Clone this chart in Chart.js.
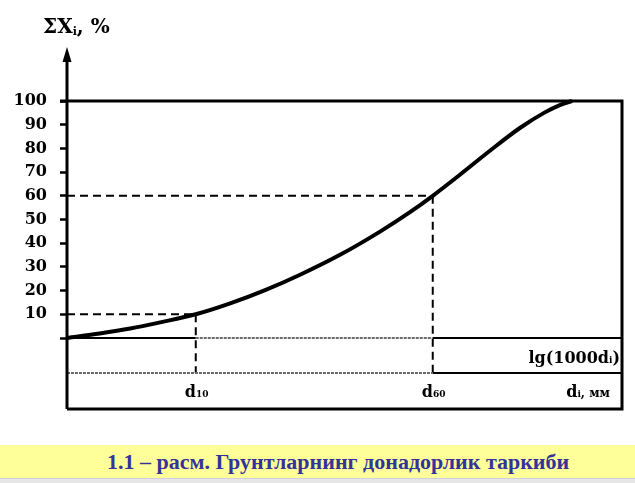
<!DOCTYPE html>
<html>
<head>
<meta charset="utf-8">
<script src="https://cdn.jsdelivr.net/npm/chart.js@4/dist/chart.umd.min.js"></script>
<style>
  html, body { margin: 0; padding: 0; background: #ffffff; }
  #wrap { position: relative; width: 635px; height: 445px; }
  #caption {
    width: 635px; height: 33px; background: #ffff99;
    font-family: "Liberation Serif", serif; font-weight: bold; font-size: 22px;
    color: #333399; line-height: 33px; box-sizing: border-box; padding-left: 107px;
    white-space: nowrap;
  }
  #foot { width: 635px; height: 5px; background: #e6e6e6; border-top: 1px solid #cfcfdf; box-sizing: border-box; }
</style>
</head>
<body>
<div id="wrap"><canvas id="c" width="635" height="445"></canvas></div>
<div id="caption">1.1 – расм. Грунтларнинг донадорлик таркиби</div>
<div id="foot"></div>
<script>
// Curve (x: position on lg(1000 d) axis, 0..100 arbitrary units; y: cumulative %)
const curveX = [0, 5.9, 11.4, 16.8, 23.2, 29.4, 35.7, 42.0, 49.2, 56.4, 61.8, 65.9, 70.8, 76.2, 81.6, 86.1, 88.8, 91.0];
const curveY = [0, 1.9, 4.0, 6.6, 10, 14.6, 20.2, 26.7, 35.1, 44.9, 53.1, 60, 68.9, 79.0, 88.6, 95.2, 98.3, 100];
// Characteristic diameters
const guideNames = ['10', '60'];
const guideX = [23.2, 65.9];
const guideY = [10, 60];
// Y ticks
const yTicks = [0, 10, 20, 30, 40, 50, 60, 70, 80, 90, 100];

const SERIF = '"DejaVu Serif", "Liberation Serif", serif';

const decor = {
  id: 'decor',
  afterDraw(chart) {
    const ctx = chart.ctx;
    const xs = chart.scales.x, ys = chart.scales.y;
    const L = xs.getPixelForValue(0), R = xs.getPixelForValue(100);
    const T = ys.getPixelForValue(100), B = ys.getPixelForValue(0);
    const row1 = B + 35, row2 = B + 71;
    ctx.save();
    // guides
    ctx.strokeStyle = '#000'; ctx.lineWidth = 2; ctx.setLineDash([8, 5]);
    guideX.forEach((gx, i) => {
      const px = xs.getPixelForValue(gx), py = ys.getPixelForValue(guideY[i]);
      ctx.beginPath(); ctx.moveTo(L, py); ctx.lineTo(px, py); ctx.stroke();
      ctx.beginPath(); ctx.moveTo(px, py); ctx.lineTo(px, row1); ctx.stroke();
    });
    ctx.setLineDash([]);
    const d10 = xs.getPixelForValue(guideX[0]), d60 = xs.getPixelForValue(guideX[1]);
    // row lines
    ctx.lineWidth = 2;
    ctx.strokeStyle = '#000';
    ctx.beginPath(); ctx.moveTo(L, B); ctx.lineTo(d10, B); ctx.stroke();
    ctx.beginPath(); ctx.moveTo(d60, B); ctx.lineTo(R, B); ctx.stroke();
    ctx.beginPath(); ctx.moveTo(d60, row1); ctx.lineTo(R, row1); ctx.stroke();
    ctx.strokeStyle = '#6a6a6a'; ctx.setLineDash([3, 1]);
    ctx.beginPath(); ctx.moveTo(d10, B); ctx.lineTo(d60, B); ctx.stroke();
    ctx.beginPath(); ctx.moveTo(L, row1); ctx.lineTo(d60, row1); ctx.stroke();
    ctx.setLineDash([]);
    // frame
    ctx.strokeStyle = '#000'; ctx.lineWidth = 3;
    ctx.beginPath(); ctx.moveTo(L - 7, T); ctx.lineTo(R, T); ctx.lineTo(R, row2); ctx.lineTo(L, row2); ctx.stroke();
    // y axis with arrow
    ctx.beginPath(); ctx.moveTo(L, row2); ctx.lineTo(L, 56); ctx.stroke();
    ctx.fillStyle = '#000';
    ctx.beginPath(); ctx.moveTo(L, 47); ctx.lineTo(L - 4.5, 62); ctx.lineTo(L + 4.5, 62); ctx.closePath(); ctx.fill();
    // texts
    ctx.fillStyle = '#000'; ctx.textBaseline = 'alphabetic'; ctx.textAlign = 'left';
    function sub(x, y, main, s, big, small, drop) {
      ctx.font = 'bold ' + big + 'px ' + SERIF;
      ctx.fillText(main, x, y);
      const w = ctx.measureText(main).width;
      ctx.font = 'bold ' + small + 'px ' + SERIF;
      ctx.fillText(s, x + w, y + drop);
      return x + w + ctx.measureText(s).width;
    }
    function widthOf(parts) {
      let w = 0;
      parts.forEach(p => { ctx.font = 'bold ' + p[1] + 'px ' + SERIF; w += ctx.measureText(p[0]).width; });
      return w;
    }
    // axis title
    let ex = sub(43, 33, 'ΣX', 'i', 20, 11, 2);
    ctx.font = 'bold 20px ' + SERIF; ctx.fillText(', %', ex, 33);
    // lg label, right-aligned
    let sx = R - 2 - widthOf([['lg(1000d', 16], ['i', 9], [')', 16]]);
    ex = sub(sx, B + 25, 'lg(1000d', 'i', 16, 9, 0);
    ctx.font = 'bold 16px ' + SERIF; ctx.fillText(')', ex, B + 25);
    // d10, d60
    guideX.forEach((gx, i) => {
      const px = xs.getPixelForValue(gx);
      sub(px - 11, row1 + 24, 'd', guideNames[i], 16, 9, 0);
    });
    sx = 610 - widthOf([['d', 16], ['i', 9], [', мм', 12]]);
    ex = sub(sx, row1 + 24, 'd', 'i', 16, 9, 0);
    ctx.font = 'bold 12px ' + SERIF; ctx.fillText(', мм', ex, row1 + 24);
    ctx.restore();
  }
};

new Chart(document.getElementById('c'), {
  type: 'line',
  data: {
    datasets: [{
      data: curveX.map((x, i) => ({ x: x, y: curveY[i] })),
      borderColor: '#000', borderWidth: 4, pointRadius: 0,
      cubicInterpolationMode: 'monotone', fill: false, clip: false
    }]
  },
  options: {
    responsive: false, animation: false,
    layout: { padding: { left: 0, top: 101, right: 13, bottom: 107 } },
    plugins: { legend: { display: false }, tooltip: { enabled: false }, title: { display: false } },
    scales: {
      x: { type: 'linear', min: 0, max: 100, display: false },
      y: {
        type: 'linear', min: 0, max: 100,
        afterFit(s) { s.width = 67; },
        afterBuildTicks(s) { s.ticks = yTicks.map(v => ({ value: v })); },
        border: { display: false },
        grid: { drawOnChartArea: false, drawTicks: true, tickLength: 7, tickColor: '#000', tickWidth: 2.5 },
        ticks: {
          padding: 13, color: '#000',
          font: { family: SERIF, weight: 'bold', size: 16 },
          callback: v => (v === 0 ? '' : String(v))
        }
      }
    }
  },
  plugins: [decor]
});
</script>
</body>
</html>
